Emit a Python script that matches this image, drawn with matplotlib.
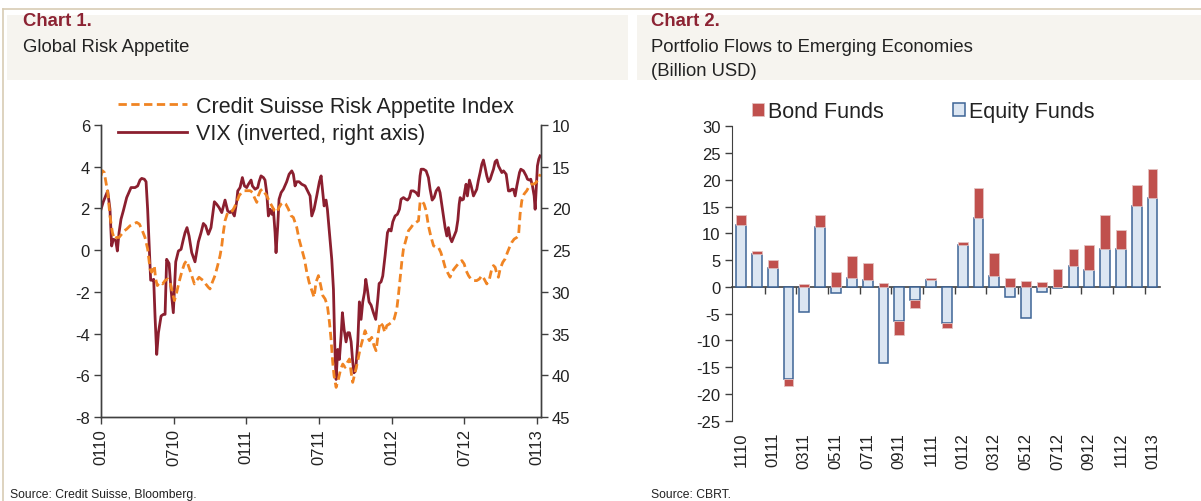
import matplotlib
matplotlib.use("Agg")
import matplotlib.pyplot as plt
import numpy as np
from matplotlib.patches import Rectangle
from matplotlib.lines import Line2D

plt.rcParams["font.family"] = ["Liberation Sans", "DejaVu Sans"]
plt.rcParams["axes.unicode_minus"] = False

# ---- Chart 1: months since Jan 2010 ----
VIX_MONTH = [
    0.00, 0.19, 0.55, 0.74, 0.88, 1.02, 1.21, 1.35, 1.49, 1.65,
    1.84, 2.12, 2.48, 2.81, 3.03, 3.22, 3.36, 3.58, 3.72, 3.85,
    3.99, 4.10, 4.24, 4.35, 4.46, 4.60, 4.74, 4.96, 5.15, 5.29,
    5.42, 5.62, 5.78, 5.97, 6.17, 6.39, 6.61, 6.80, 6.94, 7.10,
    7.27, 7.49, 7.76, 8.04, 8.26, 8.45, 8.64, 8.86, 9.08, 9.36,
    9.55, 9.75, 9.97, 10.24, 10.46, 10.65, 10.79, 11.01, 11.20, 11.29,
    11.48, 11.67, 11.84, 12.03, 12.17, 12.39, 12.50, 12.72, 12.94, 13.05,
    13.21, 13.41, 13.54, 13.68, 13.82, 13.96, 14.10, 14.23, 14.37, 14.45,
    14.59, 14.70, 14.87, 15.06, 15.33, 15.53, 15.75, 15.88, 16.02, 16.16,
    16.35, 16.57, 16.85, 17.12,
    17.26, 17.40, 17.59, 17.81, 18.03, 18.17, 18.31, 18.42, 18.58, 18.69,
    18.86, 19.05, 19.19, 19.30, 19.41, 19.54, 19.68, 19.82, 19.93, 20.07,
    20.23, 20.37, 20.51, 20.65, 20.78, 20.89, 21.03, 21.20, 21.33, 21.47,
    21.61, 21.75, 21.86, 21.99, 22.13, 22.30, 22.49, 22.68, 22.85, 22.96,
    23.12, 23.26, 23.45, 23.65, 23.78, 23.95, 24.09, 24.28, 24.47, 24.64,
    24.77, 24.97, 25.16, 25.30, 25.46, 25.60, 25.79, 26.01, 26.21, 26.34,
    26.43, 26.62, 26.84, 27.03, 27.17, 27.34, 27.50, 27.67, 27.86, 27.99,
    28.13, 28.27, 28.41, 28.55, 28.68, 28.82, 28.96, 29.10, 29.32, 29.46,
    29.57, 29.65, 29.79, 29.92, 30.06, 30.14, 30.25, 30.42, 30.56, 30.75,
    30.89, 31.02, 31.16, 31.30, 31.44, 31.57, 31.71, 31.85, 31.99, 32.13,
    32.26, 32.40, 32.54, 32.68, 32.81, 32.95, 33.09, 33.23, 33.45, 33.64,
    33.78, 33.91, 34.05, 34.19, 34.33, 34.55, 34.66, 34.88, 35.10, 35.21,
    35.37, 35.48, 35.62, 35.76, 35.84, 35.92, 36.03, 36.14, 36.25,
]
VIX = [
    20.1, 19.2, 17.9, 20.1, 24.5, 23.7, 23.8, 25.1, 22.9, 21.3,
    20.3, 18.7, 17.5, 17.5, 17.3, 16.6, 16.4, 16.5, 16.8, 20.1,
    24.9, 28.6, 28.6, 28.5, 32.9, 37.5, 34.9, 32.9, 32.7, 32.7,
    26.1, 26.6, 29.7, 32.5, 26.4, 25.1, 24.9, 23.7, 22.9, 22.3,
    23.3, 25.3, 26.4, 24.0, 22.9, 21.8, 22.1, 23.1, 22.3, 19.2,
    19.5, 19.9, 20.5, 19.0, 20.3, 20.5, 20.3, 20.9, 19.2, 17.9,
    17.5, 16.3, 17.3, 17.5, 17.1, 16.6, 17.3, 17.7, 17.5, 16.8,
    16.1, 16.3, 16.6, 18.1, 20.9, 20.1, 20.7, 20.1, 22.9, 25.3,
    22.1, 18.9, 18.1, 17.7, 16.8, 15.9, 15.5, 15.9, 17.3, 16.8,
    16.8, 17.1, 17.3, 18.1,
    18.5, 20.9, 20.1, 18.5, 16.8, 16.1, 18.1, 19.7, 19.0, 20.1,
    22.9, 26.1, 29.7, 36.4, 40.5, 36.9, 38.1, 35.3, 32.5, 34.5,
    36.0, 34.9, 34.9, 36.0, 38.4, 39.7, 39.3, 36.0, 31.2, 33.3,
    31.2, 30.1, 28.5, 29.7, 31.2, 31.6, 32.5, 33.3, 30.9, 29.0,
    28.8, 28.1, 25.7, 22.9, 22.5, 22.7, 21.6, 20.9, 20.7, 20.1,
    18.9, 18.7, 18.9, 19.0, 18.7, 17.9, 17.9, 18.1, 18.5, 16.1,
    15.3, 15.3, 15.5, 16.3, 17.7, 19.0, 18.7, 17.9, 17.5, 18.1,
    19.5, 20.9, 22.3, 23.3, 22.3, 23.5, 24.0, 23.5, 22.7, 21.4,
    19.5, 18.7, 19.0, 18.9, 17.7, 17.1, 18.5, 16.6, 17.3, 18.5,
    18.1, 17.7, 16.6, 15.7, 14.7, 14.2, 15.1, 16.1, 16.8, 16.5,
    15.9, 15.3, 14.4, 14.2, 14.9, 15.3, 15.7, 15.5, 15.9, 17.9,
    17.9, 17.7, 17.7, 18.5, 17.3, 15.7, 15.3, 15.5, 16.1, 16.5,
    16.6, 16.5, 17.3, 18.5, 20.1, 17.9, 14.9, 14.1, 13.7,
]

CS_MONTH = [
    0.00, 0.11, 0.27, 0.41, 0.55, 0.74, 0.94, 1.10, 1.29, 1.49,
    1.71, 1.93, 2.12, 2.40, 2.67, 2.95, 3.17, 3.36, 3.63, 3.85,
    4.05, 4.18, 4.40, 4.51, 4.65, 4.87, 5.09, 5.29, 5.51, 5.70,
    5.89, 6.06, 6.25, 6.44, 6.66, 6.88, 7.07, 7.21, 7.49, 7.71,
    7.90, 8.09, 8.26, 8.45, 8.64, 8.86, 9.00, 9.19, 9.41, 9.63,
    9.83, 9.97, 10.10, 10.24, 10.46, 10.65, 10.85, 11.01, 11.20, 11.40,
    11.62, 11.84, 12.03, 12.31, 12.50, 12.66, 12.86, 12.99, 13.16, 13.32,
    13.49, 13.68, 13.87, 14.10, 14.32, 14.51, 14.70, 14.87, 15.06, 15.25,
    15.47, 15.69, 15.88, 16.16, 16.35, 16.57, 16.79, 16.99, 17.18,
    17.59, 17.75, 17.95, 18.14, 18.31, 18.50, 18.69, 18.86, 18.99, 19.13,
    19.24, 19.41, 19.60, 19.79, 19.96, 20.15, 20.34, 20.51, 20.65, 20.78,
    20.98, 21.17, 21.39, 21.61, 21.80, 21.94, 22.16, 22.35, 22.54, 22.71,
    22.90, 23.04, 23.26, 23.43, 23.59, 23.81, 24.00, 24.20, 24.42, 24.55,
    24.69, 24.83, 24.97, 25.19, 25.38, 25.60, 25.79, 26.01, 26.21, 26.34,
    26.48, 26.67, 26.84, 27.03, 27.22, 27.45, 27.67, 27.86, 28.05, 28.22,
    28.41, 28.60, 28.82, 28.96, 29.15, 29.37, 29.59, 29.79, 29.98, 30.14,
    30.34, 30.53, 30.75, 31.02, 31.24, 31.44, 31.63, 31.85, 32.07, 32.26,
    32.40, 32.54, 32.68, 32.81, 32.95, 33.17, 33.36, 33.56, 33.72, 33.91,
    34.11, 34.33, 34.47, 34.60, 34.74, 34.93, 35.15, 35.37, 35.57, 35.76,
    35.92, 36.12, 36.25,
]
CS_INDEX = [
    3.57, 3.81, 3.73, 3.25, 2.77, 1.65, 0.85, 0.53, 0.61, 0.61,
    0.77, 0.93, 1.01, 1.17, 1.25, 1.33, 1.25, 1.01, 0.61, 0.06,
    -0.90, -1.06, -0.74, -1.38, -1.70, -1.54, -1.62, -1.46, -1.38, -1.54,
    -2.02, -2.42, -2.02, -1.54, -1.06, -0.66, -0.50, -0.74, -1.22, -1.62,
    -1.46, -1.30, -1.38, -1.46, -1.62, -1.78, -1.86, -1.54, -1.22, -0.74,
    -0.26, 0.21, 0.85, 1.41, 1.81, 1.81, 1.89, 2.05, 2.29, 2.61,
    2.77, 2.85, 2.85, 2.85, 2.77, 2.53, 2.29, 2.61, 2.85, 2.93,
    2.77, 2.61, 2.37, 2.13, 1.89, 1.81, 2.05, 2.21, 2.29, 2.21,
    1.97, 1.65, 1.57, 1.09, 0.53, 0.06, -0.42, -1.06, -1.54,
    -2.26, -1.54, -1.22, -1.70, -2.18, -2.34, -2.66, -3.46, -4.26, -5.38,
    -6.02, -6.58, -6.18, -5.70, -5.46, -5.62, -5.38, -5.22, -5.86, -6.34,
    -5.86, -5.38, -4.74, -4.26, -3.86, -4.10, -4.34, -4.18, -4.58, -4.82,
    -3.94, -3.46, -3.62, -3.94, -3.62, -3.54, -3.46, -3.30, -2.82, -2.18,
    -1.38, -0.58, 0.06, 0.53, 0.93, 1.09, 1.25, 1.33, 1.41, 2.29,
    2.37, 2.21, 1.89, 1.17, 0.69, 0.21, 0.13, 0.13, -0.10, -0.42,
    -0.82, -1.06, -1.30, -1.06, -0.90, -0.74, -0.58, -0.50, -0.66, -0.98,
    -1.22, -1.38, -1.46, -1.46, -1.38, -1.22, -1.38, -1.62, -1.38, -0.90,
    -0.74, -0.82, -1.14, -1.30, -0.90, -0.58, -0.42, -0.10, 0.13, 0.37,
    0.53, 0.61, 0.69, 1.73, 2.37, 2.69, 2.85, 3.09, 3.17, 3.17,
    3.25, 3.41, 3.65,
]
C1_TICK_MONTHS = [0, 6, 12, 18, 24, 30, 36]
C1_TICK_LABELS = ["0110", "0710", "0111", "0711", "0112", "0712", "0113"]

# ---- Chart 2: monthly flows, billion USD ----
MONTHS = ["1110", "1210", "0111", "0211", "0311", "0411", "0511", "0611", "0711",
          "0811", "0911", "1011", "1111", "1211", "0112", "0212", "0312", "0412",
          "0512", "0612", "0712", "0812", "0912", "1012", "1112", "1212", "0113"]
EQUITY = [11.5, 6.05, 3.5, -17.3, -4.7, 11.1, -1.05, 1.75, 1.25, -14.3, -6.35, -2.4,
          1.3, -6.8, 7.8, 12.8, 1.95, -1.8, -5.85, -0.87, -0.3, 3.9, 3.2, 7.05,
          7.05, 15.2, 16.65]
BOND = [2.0, 0.7, 1.6, -1.3, 0.5, 2.4, 2.7, 4.05, 3.3, 0.75, -2.7, -1.6, 0.45, -0.8,
        0.6, 5.65, 4.45, 1.75, 1.1, 0.95, 3.4, 3.1, 4.7, 6.4, 3.55, 3.9, 5.45]

MAROON = "#8B1F2F"
ORANGE = "#F08423"
AX_COLOR = "#404040"
TXT = "#222222"
BAND = "#F6F4EF"
RULE = "#D8CCB4"

W, H = 1201, 502
fig = plt.figure(figsize=(W / 100, H / 100), dpi=100)


def fx(px):
    return px / W


def fy(py):
    return 1 - py / H


# page furniture
for x0, x1 in [(7, 628), (637, 1201)]:
    fig.patches.append(Rectangle((fx(x0), fy(81)), fx(x1 - x0), (81 - 16) / H,
                                 transform=fig.transFigure, facecolor=BAND,
                                 edgecolor="none", zorder=0))
fig.add_artist(Line2D([fx(3), 1], [fy(10), fy(10)], color=RULE, lw=1.2))
fig.add_artist(Line2D([fx(3), fx(3)], [fy(10), 0], color=RULE, lw=1.2))

fig.text(fx(23), fy(21), "Chart 1.", color="#8C2333", fontsize=13.3,
         fontweight="bold", va="center")
fig.text(fx(23), fy(47), "Global Risk Appetite", color=TXT, fontsize=13.3, va="center")
fig.text(fx(651), fy(21), "Chart 2.", color="#8C2333", fontsize=13.3,
         fontweight="bold", va="center")
fig.text(fx(651), fy(47), "Portfolio Flows to Emerging Economies", color=TXT,
         fontsize=13.3, va="center")
fig.text(fx(651), fy(71), "(Billion USD)", color=TXT, fontsize=13.3, va="center")
fig.text(fx(10), fy(495), "Source: Credit Suisse, Bloomberg.", color=TXT,
         fontsize=8.7, va="center")
fig.text(fx(651), fy(495), "Source: CBRT.", color=TXT, fontsize=8.7, va="center")

# ---- Chart 1 ----
ax1 = fig.add_axes([fx(101), fy(418), fx(540.7 - 101), (418 - 126) / H])
ax1r = ax1.twinx()
ax1.set_zorder(ax1r.get_zorder() + 1)
ax1.patch.set_visible(False)

l_vix, = ax1r.plot(VIX_MONTH, VIX, color=MAROON, lw=2.0,
                   label="VIX (inverted, right axis)")
l_cs, = ax1.plot(CS_MONTH, CS_INDEX, color=ORANGE, lw=2.0, ls=(0, (3, 1.6)),
                 label="Credit Suisse Risk Appetite Index")

ax1.set_xlim(0, 36.3)
ax1.set_ylim(-8, 6)
ax1.set_yticks(range(-8, 7, 2))
ax1r.set_ylim(45, 10)
ax1r.set_yticks(range(10, 46, 5))
ax1.set_xticks(C1_TICK_MONTHS)
ax1.set_xticklabels(C1_TICK_LABELS, rotation=90)

for a in (ax1, ax1r):
    a.spines["top"].set_visible(False)
    for s in ("left", "right", "bottom"):
        a.spines[s].set_color(AX_COLOR)
        a.spines[s].set_linewidth(1.0)
    a.tick_params(direction="out", length=5, width=1, color=AX_COLOR,
                  labelsize=12, labelcolor=TXT, pad=3)

fig.legend(handles=[l_cs, l_vix], loc="upper left",
           bbox_to_anchor=(fx(118), fy(97)), frameon=False, fontsize=15.5,
           handlelength=3.2, handletextpad=0.4, labelspacing=0.3,
           borderpad=0, borderaxespad=0, labelcolor=TXT)

# ---- Chart 2 ----
ax2 = fig.add_axes([fx(732.3), fy(421.7), fx(1160 - 732.3), (421.7 - 127.3) / H])
x = np.arange(len(MONTHS))
equity = np.array(EQUITY)
bond = np.array(BOND)
bond_base = np.where(np.sign(bond) == np.sign(equity), equity, 0.0)

b_eq = ax2.bar(x, equity, width=0.62, color="#DCE6F2", edgecolor="#3D6496",
               linewidth=1.1, label="Equity Funds", zorder=2)
b_bd = ax2.bar(x, bond, bottom=bond_base, width=0.62, color="#C0504D",
               edgecolor="#E3C2C1", linewidth=0.6, label="Bond Funds", zorder=2)

ax2.set_xlim(-0.55, 26.47)
ax2.set_ylim(-25, 30)
ax2.set_yticks(range(-25, 31, 5))
ax2.set_xticks(x[::2])
ax2.set_xticklabels(MONTHS[::2], rotation=90)
ax2.tick_params(axis="x", length=0, pad=8, labelsize=12, labelcolor=TXT)
ax2.tick_params(axis="y", direction="out", length=5, width=1, color=AX_COLOR,
                labelsize=12, labelcolor=TXT)
for s in ("top", "right", "bottom"):
    ax2.spines[s].set_visible(False)
ax2.spines["left"].set_color(AX_COLOR)

zero_pos = (0 - ax2.get_ylim()[0]) / (ax2.get_ylim()[1] - ax2.get_ylim()[0])
sec = ax2.secondary_xaxis(zero_pos)
sec.set_xticks(x[1::2] + 0.5)
sec.set_xticklabels([])
sec.tick_params(direction="out", length=5, width=1, color=AX_COLOR)
sec.spines["bottom"].set_color(AX_COLOR)
sec.spines["bottom"].set_linewidth(1.2)

fig.legend(handles=[b_bd, b_eq], loc="upper left", ncol=2,
           bbox_to_anchor=(fx(752), fy(102)), frameon=False, fontsize=15.5,
           handlelength=0.55, handleheight=0.55, handletextpad=0.2,
           columnspacing=3.2, borderpad=0, borderaxespad=0, labelcolor=TXT)

fig.savefig("out.png", dpi=100)
